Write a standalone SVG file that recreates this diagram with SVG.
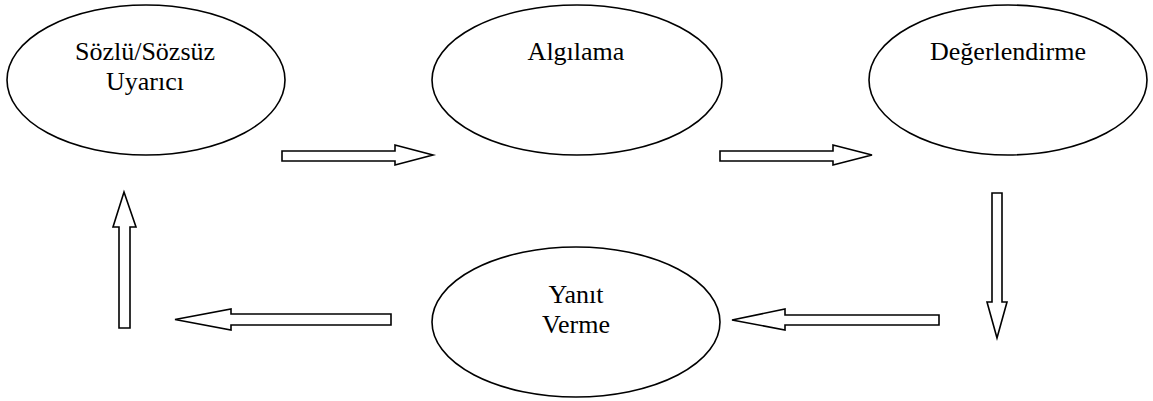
<svg xmlns="http://www.w3.org/2000/svg" width="1153" height="401" viewBox="0 0 1153 401">
<style>
.node ellipse { fill: #ffffff; stroke: #000000; stroke-width: 1.6; }
.node text { font-family: "Liberation Serif", "Times New Roman", serif; font-size: 26px; fill: #000000; text-anchor: middle; }
.arrow { fill: #ffffff; stroke: #000000; stroke-width: 1.6; stroke-linejoin: miter; }
</style>
<rect x="0" y="0" width="1153" height="401" fill="#ffffff"/>
<g id="node-uyarici" class="node">
<ellipse cx="146" cy="80" rx="139" ry="75"/>
<text x="145" y="60">Sözlü/Sözsüz</text>
<text x="145" y="90">Uyarıcı</text>
</g>
<g id="node-algilama" class="node">
<ellipse cx="577" cy="80" rx="145" ry="75"/>
<text x="576" y="60">Algılama</text>
</g>
<g id="node-degerlendirme" class="node">
<ellipse cx="1008" cy="80" rx="139" ry="75"/>
<text x="1008" y="60">Değerlendirme</text>
</g>
<g id="node-yanit" class="node">
<ellipse cx="576" cy="322" rx="144" ry="75"/>
<text x="576" y="303">Yanıt</text>
<text x="576" y="333">Verme</text>
</g>
<g id="connectors">
<polygon class="arrow" points="282,151 395,151 395,145 433,155 395,165 395,161 282,161"/>
<polygon class="arrow" points="720,151 833,151 833,145 872,155 833,165 833,161 720,161"/>
<polygon class="arrow" points="992,193 1002,193 1002,302 1007,302 997,338 987,302 992,302"/>
<polygon class="arrow" points="939,315 785,315 785,309 732,320 785,330 785,325 939,325"/>
<polygon class="arrow" points="391,314 231,314 231,309 175,319.5 231,330 231,325 391,325"/>
<polygon class="arrow" points="119,328 119,227 113,227 124,192 136,227 130,227 130,328"/>
</g>
</svg>
